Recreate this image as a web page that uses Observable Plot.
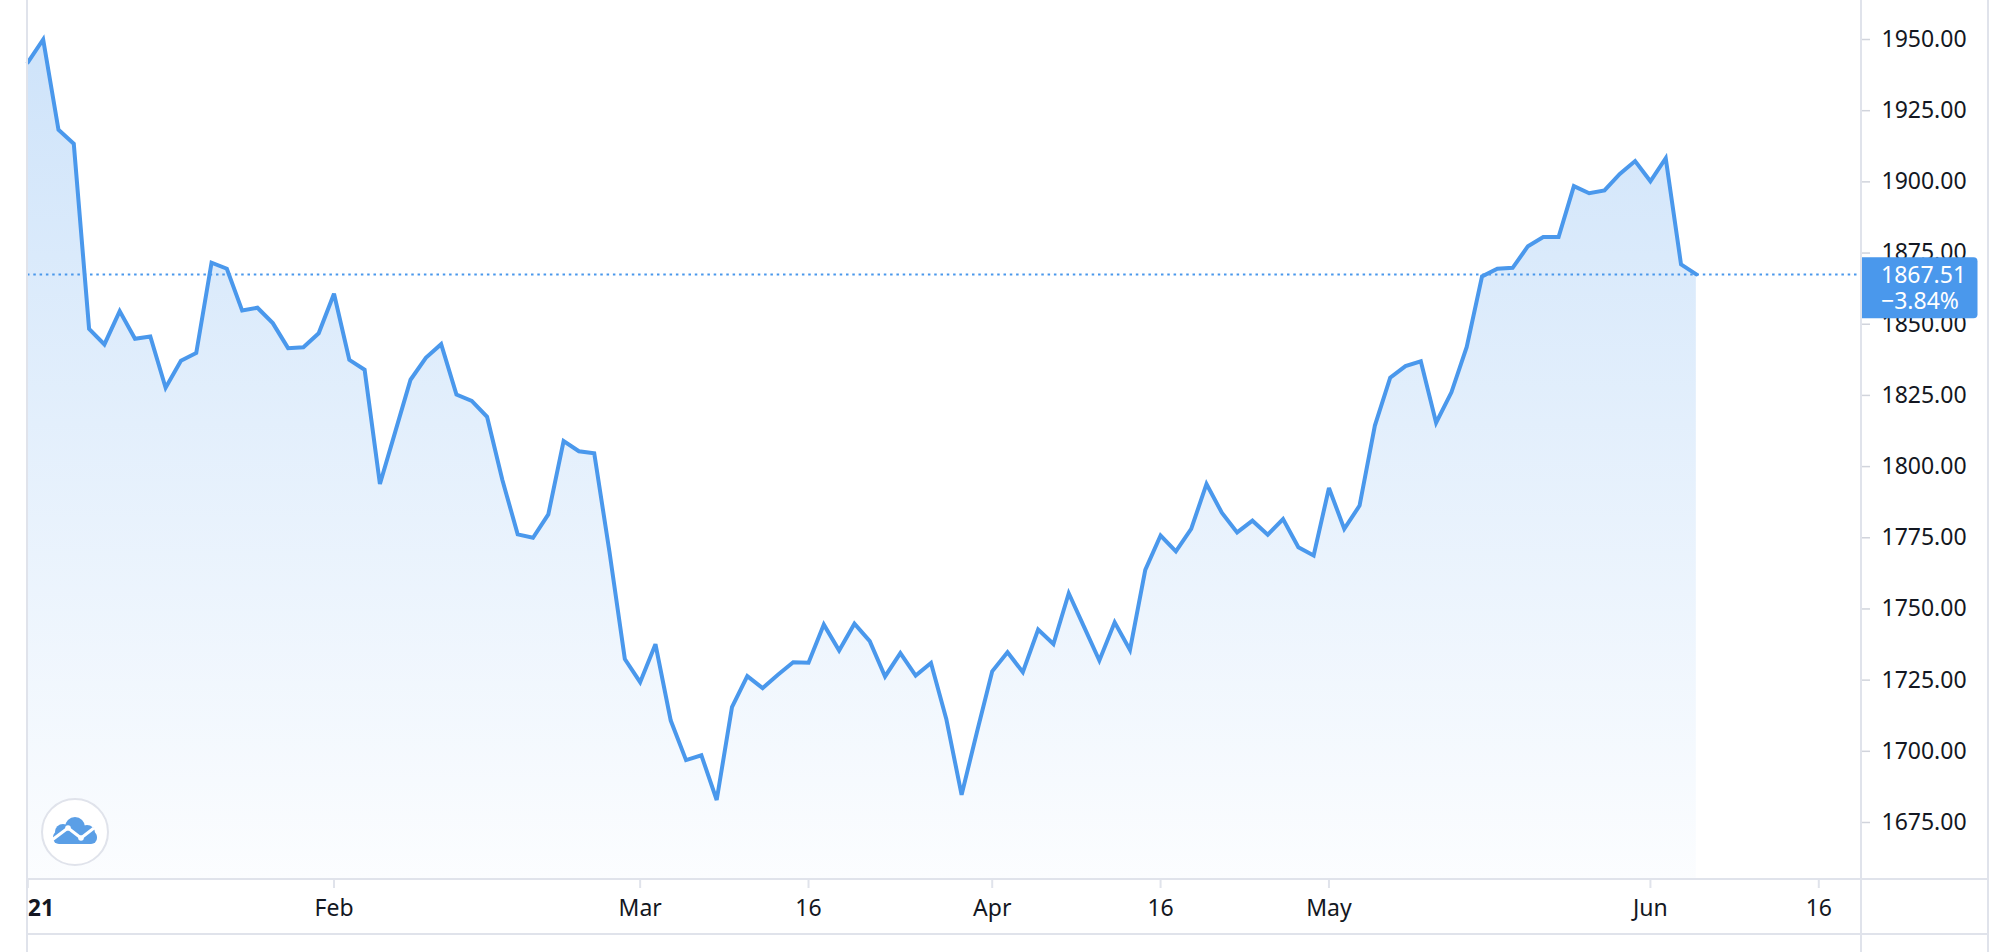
<!DOCTYPE html>
<html>
<head>
<meta charset="utf-8">
<script src="https://cdn.jsdelivr.net/npm/d3@7"></script>
<script src="https://cdn.jsdelivr.net/npm/@observablehq/plot@0.6"></script>
<style>
  html, body { margin: 0; padding: 0; background: #ffffff; }
  #chart { width: 2014px; height: 952px; overflow: hidden; }
  #chart svg { display: block; }
</style>
</head>
<body>
<div id="chart"></div>
<script>
// ---------------- data ----------------
const firstSession = "2021-01-04";
const lastSessionShown = "2021-06-30";
// daily closes, one per weekday session from 2021-01-04 to 2021-06-04
const closes = [
  1942.0, 1950.0, 1918.3, 1913.4, 1848.4, 1842.9, 1854.6, 1844.9, 1845.7, 1827.7,
  1837.2, 1839.9, 1871.6, 1869.5, 1854.8, 1855.8, 1850.4, 1841.6, 1841.9, 1846.8,
  1860.7, 1837.5, 1834.0, 1793.9, 1812.2, 1830.5, 1838.2, 1843.0, 1825.3, 1823.1,
  1817.5, 1795.3, 1776.2, 1775.0, 1783.2, 1809.0, 1805.4, 1804.7, 1769.9, 1732.4,
  1724.3, 1737.6, 1710.8, 1696.9, 1698.6, 1682.9, 1715.5, 1726.4, 1722.2, 1726.9,
  1731.3, 1731.1, 1744.5, 1735.4, 1744.8, 1738.7, 1726.3, 1734.5, 1726.6, 1731.0,
  1711.4, 1684.7, 1706.7, 1728.1, 1734.8, 1727.8, 1742.8, 1737.7, 1755.5, 1743.7,
  1731.9, 1745.3, 1735.6, 1763.7, 1775.8, 1770.2, 1778.1, 1793.9, 1783.8, 1776.9,
  1781.0, 1776.1, 1781.6, 1771.7, 1768.8, 1792.5, 1778.1, 1786.3, 1814.4, 1831.2,
  1835.3, 1837.0, 1815.4, 1826.1, 1842.0, 1866.8, 1869.5, 1869.8, 1877.4, 1880.6,
  1880.6, 1898.5, 1896.0, 1897.0, 1902.8, 1907.3, 1900.2, 1908.3, 1871.0, 1867.51
];
const lastPrice = 1867.51;
const changeText = "\u22123.84%";
const yTicks = [1675, 1700, 1725, 1750, 1775, 1800, 1825, 1850, 1875, 1900, 1925, 1950];
const yearTickDate = "2021-01-04";
const yearTickLabel = "2021";
const tickDates = ["2021-02-01", "2021-03-01", "2021-03-16", "2021-04-01", "2021-04-16", "2021-05-03", "2021-06-01", "2021-06-16"];
const tickLabels = ["Feb", "Mar", "16", "Apr", "16", "May", "Jun", "16"];

// ---------------- build table ----------------
const fmtDay = d3.utcFormat("%Y-%m-%d");
const sessions = d3.utcDays(new Date(firstSession), new Date(lastSessionShown))
  .filter(d => d.getUTCDay() !== 0 && d.getUTCDay() !== 6);
const sessionIndex = new Map(sessions.map((d, i) => [fmtDay(d), i]));
const data = closes.map((v, i) => ({i, date: sessions[i], v}));
const tickIdx = tickDates.map(d => sessionIndex.get(d));
const tickLabelByIdx = new Map(tickIdx.map((i, k) => [i, tickLabels[k]]));
const yearIdx = sessionIndex.get(yearTickDate);

const lineColor = "#4a98ec";
const gridColor = "#e0e3eb";
const textColor = "#131722";
const font = "'Noto Sans', 'Open Sans', sans-serif";
const yDomain = [1654.98, 1963.70];

const chart = Plot.plot({
  width: 2014,
  height: 952,
  marginLeft: 27,
  marginRight: 153,
  marginTop: 0,
  marginBottom: 73,
  x: {type: "linear", domain: [-0.0235, 119.79]},
  y: {domain: yDomain},
  style: {fontFamily: font, background: "#ffffff", overflow: "visible"},
  marks: [
    Plot.areaY(data, {x: "i", y1: yDomain[0], y2: "v", fill: "url(#areaGrad)"}),
    Plot.ruleY([lastPrice], {stroke: lineColor, strokeWidth: 2, strokeDasharray: "2.5,3.8"}),
    Plot.lineY(data, {x: "i", y: "v", stroke: lineColor, strokeWidth: 4, strokeLinejoin: "miter", strokeMiterlimit: 3}),
    Plot.axisY(yTicks, {
      anchor: "right", tickSize: 8, tickPadding: 12, label: null,
      tickFormat: d3.format(".2f"), fontSize: 23,
      stroke: "#d1d4dc", strokeWidth: 1.5, fill: textColor
    }),
    Plot.axisX([yearIdx], {
      anchor: "bottom", tickSize: 9, tickPadding: 11, label: null,
      tickFormat: () => yearTickLabel, fontSize: 23, fontWeight: "bold",
      stroke: gridColor, strokeWidth: 2, fill: textColor
    }),
    Plot.axisX(tickIdx, {
      anchor: "bottom", tickSize: 9, tickPadding: 11, label: null,
      tickFormat: i => tickLabelByIdx.get(i), fontSize: 23,
      stroke: gridColor, strokeWidth: 2, fill: textColor
    }),
    Plot.text([lastPrice], {
      y: d => d, frameAnchor: "right", dx: 19.5, dy: 1, textAnchor: "start", lineAnchor: "middle",
      text: d => d3.format(".2f")(d), fill: "#ffffff", fontSize: 23
    }),
    Plot.text([changeText], {
      y: () => lastPrice, frameAnchor: "right", dx: 19.5, dy: 27, textAnchor: "start", lineAnchor: "middle",
      text: d => d, fill: "#ffffff", fontSize: 23
    })
  ]
});

document.getElementById("chart").append(chart);

// ---------------- chrome (gradient, borders, price box, logo) ----------------
const svg = d3.select(chart);
const xs = chart.scale("x"), ys = chart.scale("y");
const left = xs.range[0], right = xs.range[1];
const bottom = ys.range[0];
const outerRight = right + 127;
const axisBottom = bottom + 55;

const defs = svg.insert("defs", ":first-child");
const grad = defs.append("linearGradient").attr("id", "areaGrad")
  .attr("gradientUnits", "userSpaceOnUse").attr("x1", 0).attr("y1", 0).attr("x2", 0).attr("y2", bottom);
grad.append("stop").attr("offset", 0).attr("stop-color", lineColor).attr("stop-opacity", 0.28);
grad.append("stop").attr("offset", 1).attr("stop-color", lineColor).attr("stop-opacity", 0.02);
defs.append("clipPath").attr("id", "yearClip")
  .append("rect").attr("x", left + 1).attr("y", 0).attr("width", 400).attr("height", 952);

// clip the year label at the pane's left edge
const xLabelGroups = svg.selectAll('g[aria-label="x-axis tick label"]').nodes();
if (xLabelGroups.length) d3.select(xLabelGroups[0]).attr("clip-path", "url(#yearClip)");

// borders
const chrome = svg.append("g").attr("stroke", gridColor).attr("stroke-width", 2);
chrome.append("line").attr("x1", left).attr("x2", left).attr("y1", 0).attr("y2", 952);
chrome.append("line").attr("x1", right).attr("x2", right).attr("y1", 0).attr("y2", 952);
chrome.append("line").attr("x1", outerRight).attr("x2", outerRight).attr("y1", 0).attr("y2", 952);
chrome.append("line").attr("x1", left).attr("x2", outerRight).attr("y1", bottom).attr("y2", bottom);
chrome.append("line").attr("x1", left).attr("x2", outerRight).attr("y1", axisBottom).attr("y2", axisBottom);

// price box, under the price texts
const yLast = ys.apply(lastPrice);
const textGroups = svg.selectAll('g[aria-label="text"]').nodes();
const bx = right - 1, by = yLast - 16.7, bw = 117.5, bh = 61, r = 4;
const boxPath = `M${bx},${by}H${bx + bw - r}Q${bx + bw},${by} ${bx + bw},${by + r}V${by + bh - r}Q${bx + bw},${by + bh} ${bx + bw - r},${by + bh}H${bx}Z`;
const box = document.createElementNS("http://www.w3.org/2000/svg", "path");
box.setAttribute("d", boxPath);
box.setAttribute("fill", lineColor);
if (textGroups.length) textGroups[0].parentNode.insertBefore(box, textGroups[0]);
else chart.appendChild(box);
// move price texts to top
textGroups.forEach(g => chart.appendChild(g));

// logo
const logo = svg.append("g").attr("transform", `translate(${left + 48},${bottom - 47})`);
logo.append("circle").attr("r", 33).attr("fill", "#ffffff").attr("stroke", gridColor).attr("stroke-width", 2);
const cloud = logo.append("g").attr("fill", "#5b9fe6");
cloud.append("rect").attr("x", -22).attr("y", -1).attr("width", 44).attr("height", 13).attr("rx", 6);
cloud.append("circle").attr("cx", -12).attr("cy", 0).attr("r", 8);
cloud.append("circle").attr("cx", 0).attr("cy", -5).attr("r", 10);
cloud.append("circle").attr("cx", 12).attr("cy", 1).attr("r", 8);
logo.append("polyline").attr("points", "-23,8 -7,-4 6,6 19,-4")
  .attr("fill", "none").attr("stroke", "#ffffff").attr("stroke-width", 3);
logo.append("circle").attr("cx", -7).attr("cy", -4).attr("r", 2.8).attr("fill", "#ffffff");
logo.append("circle").attr("cx", 6).attr("cy", 6).attr("r", 2.8).attr("fill", "#ffffff");
</script>
</body>
</html>
